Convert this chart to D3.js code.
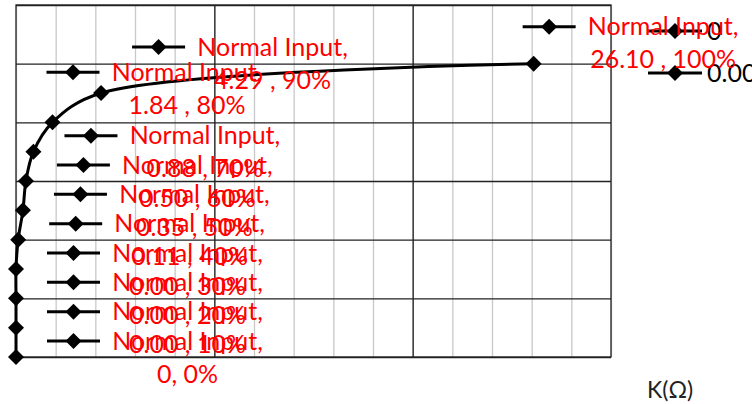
<!DOCTYPE html>
<html>
<head>
<meta charset="utf-8">
<script src="https://cdn.jsdelivr.net/npm/d3@7"></script>
<style>
  body { margin: 0; background: #fff; }
  svg { display: block; }
</style>
</head>
<body>
<div id="chart"></div>
<script>
// data
var kValues   = [0, 0.00, 0.00, 0.00, 0.11, 0.35, 0.50, 0.88, 1.84, 4.29, 26.10];
var pctValues = [0, 10, 20, 30, 40, 50, 60, 70, 80, 90, 100];
var valueText = ["0, 0%", "0.00 , 10%", "0.00 , 20%", "0.00 , 30%", "0.11 , 40%",
                 "0.35 , 50%", "0.50 , 60%", "0.88 , 70%", "1.84 , 80%", "4.29 , 90%", "26.10 , 100%"];
var seriesName = "Normal Input,";
var legendNames = ["0", "0.00"];
var axisTitle = "K(\u03A9)";

// labels that were dragged away from the default "right" spot (pixels)
var labelNudge = [[0,0],[0,0],[0,0],[0,0],[0,0],[0,0],[0,0],[0,0],[-37,-34],[0,-30],[-42,-21]];

var W = 752, H = 404;
var plot = { left: 16, right: 611, top: 5, bottom: 357 };
var font = "Lato, 'Open Sans', sans-serif";
var lblSize = 25;

var svg = d3.select("#chart").append("svg")
    .attr("width", W)
    .attr("height", H);

var x = d3.scaleLinear().domain([0, 30]).range([plot.left, plot.right]);
var y = d3.scaleLinear().domain([0, 120]).range([plot.bottom, plot.top]);

var data = kValues.map(function(d, i) {
  return { k: d, p: pctValues[i], txt: valueText[i], nudge: labelNudge[i] };
});

// minor vertical grid
svg.append("g")
    .attr("transform", "translate(0," + plot.bottom + ")")
    .call(d3.axisBottom(x).tickValues(d3.range(0, 31, 2)).tickSize(-(plot.bottom - plot.top)).tickFormat(""))
    .call(function(g) {
      g.select(".domain").remove();
      g.selectAll("line").attr("stroke", "#c8c8c8").attr("stroke-width", 1.3);
    });

// major vertical grid
svg.append("g")
    .attr("transform", "translate(0," + plot.bottom + ")")
    .call(d3.axisBottom(x).tickValues([10, 20]).tickSize(-(plot.bottom - plot.top)).tickFormat(""))
    .call(function(g) {
      g.select(".domain").remove();
      g.selectAll("line").attr("stroke", "#222").attr("stroke-width", 1.3);
    });

// horizontal grid
svg.append("g")
    .attr("transform", "translate(" + plot.left + ",0)")
    .call(d3.axisLeft(y).tickValues(d3.range(0, 121, 20)).tickSize(-(plot.right - plot.left)).tickFormat(""))
    .call(function(g) {
      g.select(".domain").remove();
      g.selectAll("line").attr("stroke", "#222").attr("stroke-width", 1.3);
    });

// plot border
svg.append("rect")
    .attr("x", plot.left).attr("y", plot.top)
    .attr("width", plot.right - plot.left)
    .attr("height", plot.bottom - plot.top)
    .attr("fill", "none")
    .attr("stroke", "#222")
    .attr("stroke-width", 1.3);

function diamond(r) {
  return "M0," + (-r) + "L" + r + ",0L0," + r + "L" + (-r) + ",0Z";
}

// smoothed line
var line = d3.line()
    .x(function(d) { return x(d.k); })
    .y(function(d) { return y(d.p); })
    .curve(d3.curveCatmullRom.alpha(0.5));

svg.append("path")
    .datum(data)
    .attr("d", line)
    .attr("fill", "none")
    .attr("stroke", "#000")
    .attr("stroke-width", 3);

svg.append("g").selectAll("path")
    .data(data)
    .enter().append("path")
      .attr("transform", function(d) { return "translate(" + x(d.k) + "," + y(d.p) + ")"; })
      .attr("d", diamond(8))
      .attr("fill", "#000");

// legend (cut by the right edge)
var legend = svg.append("g").selectAll("g")
    .data(legendNames)
    .enter().append("g")
      .attr("transform", function(d, i) { return "translate(648," + (31 + i * 42) + ")"; });

legend.append("line")
    .attr("x1", 0).attr("x2", 54)
    .attr("stroke", "#000").attr("stroke-width", 3);
legend.append("path")
    .attr("transform", "translate(27,0)")
    .attr("d", diamond(8))
    .attr("fill", "#000");
legend.append("text")
    .attr("x", 59)
    .attr("dy", "0.35em")
    .attr("font-family", font)
    .attr("font-size", lblSize)
    .attr("fill", "#000")
    .text(function(d) { return d; });

// data labels with legend keys
var labels = svg.append("g").selectAll("g")
    .data(data)
    .enter().append("g")
      .attr("transform", function(d) {
        var lx = x(d.k) + 31 + d.nudge[0];
        var ly = y(d.p) - 16 + d.nudge[1];
        return "translate(" + lx + "," + ly + ")";
      });

labels.append("line")
    .attr("x1", 0).attr("x2", 53)
    .attr("stroke", "#000").attr("stroke-width", 3);
labels.append("path")
    .attr("transform", "translate(26.5,0)")
    .attr("d", diamond(8))
    .attr("fill", "#000");
labels.append("text")
    .attr("x", 140.5)
    .attr("dy", "0.35em")
    .attr("text-anchor", "middle")
    .attr("font-family", font)
    .attr("font-size", lblSize)
    .attr("fill", "#ff0000")
    .text(seriesName);
labels.append("text")
    .attr("x", 140.5)
    .attr("y", 33)
    .attr("dy", "0.35em")
    .attr("text-anchor", "middle")
    .attr("font-family", font)
    .attr("font-size", lblSize)
    .attr("fill", "#ff0000")
    .text(function(d) { return d.txt; });

// axis title
svg.append("text")
    .attr("x", 647)
    .attr("y", 398)
    .attr("font-family", font)
    .attr("font-size", 23)
    .attr("fill", "#222")
    .text(axisTitle);
</script>
</body>
</html>
